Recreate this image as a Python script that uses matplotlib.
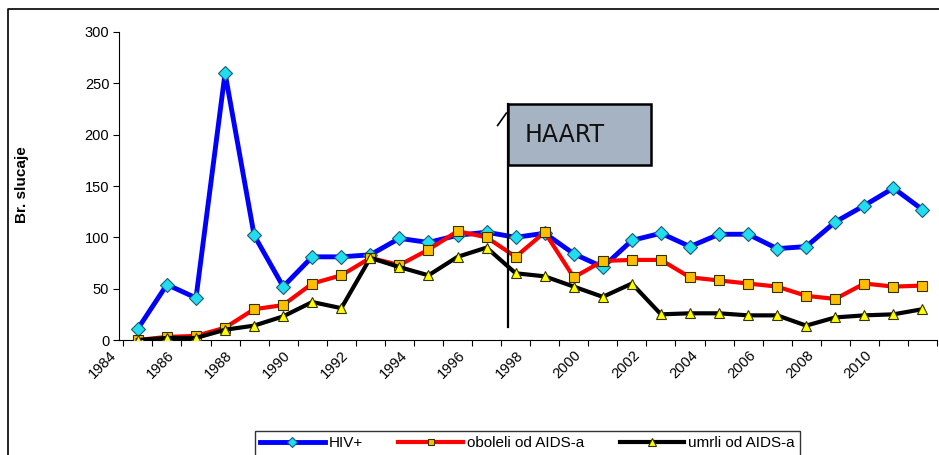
import numpy as np
import matplotlib.pyplot as plt
from matplotlib.patches import Rectangle
from matplotlib.lines import Line2D

plt.rcParams['font.family'] = ['Liberation Sans', 'DejaVu Sans']

# data
years = list(range(1984, 2012))
hiv = [11, 54, 41, 260, 102, 52, 81, 81, 83, 99, 95, 102, 105, 100,
       104, 84, 71, 97, 104, 91, 103, 103, 89, 91, 115, 131, 148, 127]
oboleli = [0, 3, 4, 12, 30, 34, 55, 63, 80, 73, 88, 106, 100, 81,
           105, 61, 77, 78, 78, 61, 58, 55, 52, 43, 40, 55, 52, 53]
umrli = [0, 2, 2, 10, 14, 23, 37, 31, 80, 71, 63, 81, 90, 65,
         62, 52, 42, 55, 25, 26, 26, 24, 24, 14, 22, 24, 25, 30]
labels = ["HIV+", "oboleli od AIDS-a", "umrli od AIDS-a"]

x = np.arange(len(years))

fig = plt.figure(figsize=(9.39, 4.55), dpi=100)
ax = fig.add_axes([119/939, 1 - 340/455, 818/939, 308/455])

ax.plot(x, hiv, color="#0000FF", lw=3.5, marker="D", ms=7.5,
        mfc="#22DDEE", mec="#1a5a7a", mew=0.8, label=labels[0], zorder=3)
ax.plot(x, oboleli, color="#FF0000", lw=3, marker="s", ms=6.5,
        mfc="#FFBF00", mec="#333300", mew=0.8, label=labels[1], zorder=4)
ax.plot(x, umrli, color="#000000", lw=3, marker="^", ms=7.5,
        mfc="#FFFF00", mec="#333300", mew=0.8, label=labels[2], zorder=5)

ax.set_xlim(-0.5, len(years) - 0.5)
ax.set_ylim(0, 300)
ax.set_yticks(range(0, 301, 50))
ax.tick_params(axis="y", direction="out", length=4, labelsize=10.5, pad=3)

# tick marks at category boundaries, labels every other year
ax.set_xticks(np.arange(len(years) + 1) - 0.5)
ax.set_xticklabels([])
ax.tick_params(axis="x", which="major", direction="out", length=4)
ax.set_xticks(x[::2] - 0.65, minor=True)
ax.set_xticklabels([str(y) for y in years[::2]], minor=True,
                   rotation=45, ha="right", va="top", fontsize=10.5)
ax.tick_params(axis="x", which="minor", length=0, pad=6)

ax.spines["top"].set_visible(False)
ax.spines["right"].set_visible(False)

# HAART marker
ax.plot([12.72, 12.72], [12.7, 230], color="black", lw=1.6, zorder=6)
ax.plot([12.38, 12.68], [209, 221], color="black", lw=1.2, zorder=6)
ax.add_patch(Rectangle((12.72, 170.5), 4.93, 59.4, facecolor="#A5B3C3",
                       edgecolor="black", lw=1.8, zorder=7))
ax.text(13.3, 200, "HAART", fontsize=17, va="center", ha="left",
        family="DejaVu Sans", color="#111111", zorder=8)

fig.text(22/939, 1 - 185/455, "Br. slucaje", rotation=90, fontsize=11,
         fontweight="bold", ha="center", va="center")

# outer frame
fig.add_artist(Line2D([8/939, 8/939, 1], [0, 1 - 9/455, 1 - 9/455],
                      transform=fig.transFigure, color="black", lw=1.2))

leg = fig.legend(loc="upper left", bbox_to_anchor=(255/939, 1 - 431/455),
                 ncol=3, frameon=True, fancybox=False, edgecolor="black",
                 fontsize=11, handlelength=4.2, columnspacing=2.3,
                 handletextpad=0.3, borderpad=0.35, borderaxespad=0,
                 markerscale=0.7)
leg.get_frame().set_linewidth(1.0)

fig.savefig("out.png", dpi=100)
